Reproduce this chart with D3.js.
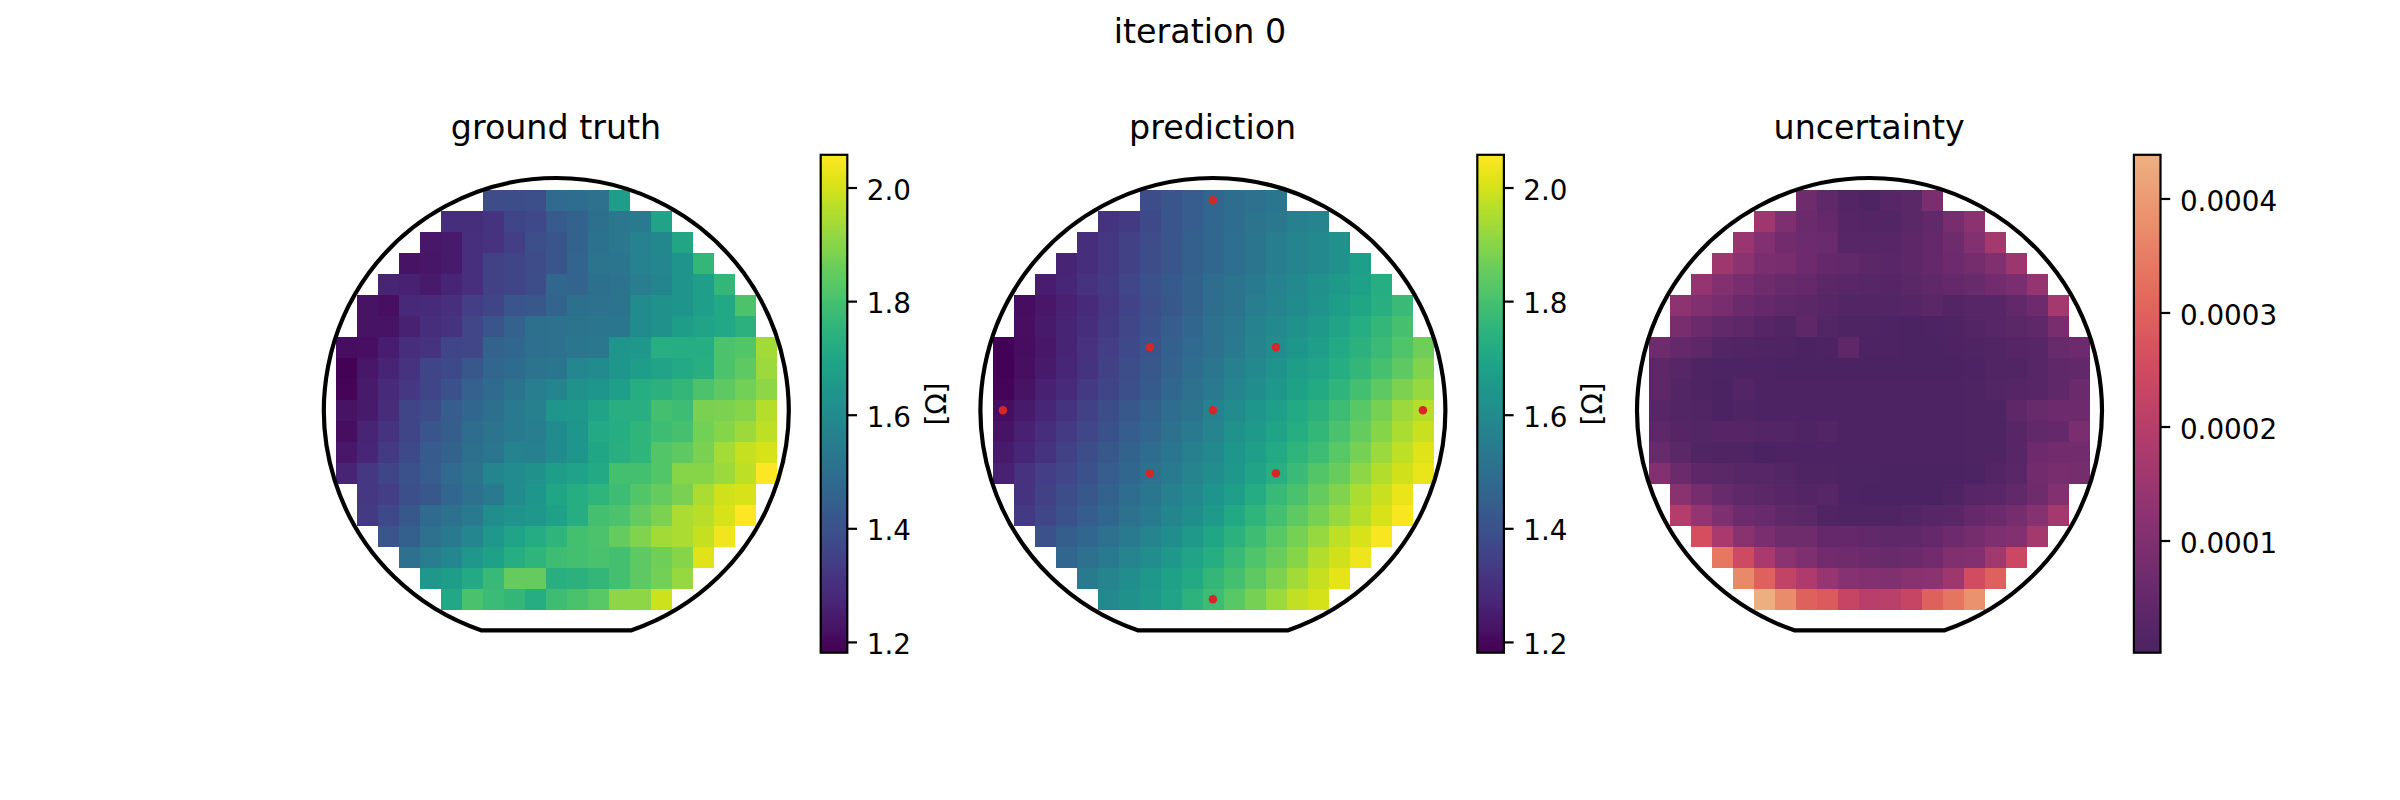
<!DOCTYPE html>
<html>
<head>
<meta charset="utf-8">
<script src="https://cdn.jsdelivr.net/npm/d3@7"></script>
<style>
body { margin: 0; background: #fff; }
text { font-family: "DejaVu Sans", sans-serif; fill: #000; }
</style>
</head>
<body>
<div class="chart"></div>
<script>
// first column of each wafer row, rows are read left to right from there
var rowStart = [7,5,4,3,2,1,1,0,0,0,0,0,0,0,1,1,2,3,4,5];

// sheet resistance
var truthRows = [
[1.38,1.385,1.39,1.48,1.49,1.505,1.665],
[1.295,1.295,1.31,1.36,1.37,1.43,1.455,1.50,1.53,1.54,1.69],
[1.235,1.24,1.30,1.305,1.34,1.39,1.41,1.455,1.51,1.53,1.57,1.59,1.695],
[1.225,1.23,1.24,1.30,1.35,1.36,1.38,1.41,1.46,1.515,1.52,1.57,1.585,1.635,1.76],
[1.27,1.26,1.24,1.27,1.30,1.35,1.36,1.385,1.47,1.46,1.50,1.515,1.55,1.58,1.635,1.67,1.76],
[1.225,1.215,1.28,1.285,1.30,1.34,1.36,1.41,1.42,1.46,1.50,1.505,1.515,1.60,1.62,1.635,1.67,1.705,1.81],
[1.225,1.225,1.26,1.295,1.31,1.365,1.41,1.45,1.50,1.505,1.515,1.52,1.525,1.60,1.62,1.665,1.69,1.705,1.74],
[1.21,1.215,1.25,1.295,1.31,1.36,1.365,1.455,1.47,1.495,1.505,1.52,1.53,1.64,1.645,1.73,1.725,1.725,1.81,1.82,1.935],
[1.185,1.235,1.27,1.305,1.36,1.375,1.42,1.47,1.485,1.515,1.525,1.585,1.60,1.64,1.665,1.69,1.71,1.73,1.81,1.84,1.925],
[1.19,1.24,1.285,1.32,1.36,1.40,1.45,1.48,1.515,1.55,1.58,1.62,1.64,1.67,1.725,1.74,1.76,1.81,1.84,1.87,1.91],
[1.225,1.24,1.29,1.36,1.385,1.435,1.47,1.50,1.54,1.56,1.64,1.645,1.69,1.73,1.73,1.795,1.785,1.88,1.885,1.90,1.96],
[1.21,1.27,1.31,1.36,1.41,1.44,1.49,1.515,1.54,1.55,1.60,1.64,1.71,1.725,1.75,1.785,1.80,1.87,1.90,1.93,1.97],
[1.235,1.275,1.33,1.375,1.43,1.455,1.50,1.52,1.57,1.56,1.60,1.64,1.70,1.73,1.75,1.82,1.84,1.88,1.94,1.98,2.005],
[1.27,1.32,1.36,1.40,1.435,1.48,1.515,1.58,1.60,1.62,1.665,1.685,1.71,1.795,1.795,1.82,1.90,1.90,1.925,1.97,2.055],
[1.32,1.34,1.39,1.42,1.47,1.505,1.54,1.60,1.64,1.70,1.725,1.75,1.785,1.82,1.85,1.88,1.945,1.995,2.005],
[1.33,1.375,1.42,1.48,1.505,1.54,1.61,1.63,1.645,1.68,1.725,1.795,1.81,1.85,1.885,1.945,1.965,2.005,2.055],
[1.41,1.445,1.505,1.54,1.585,1.645,1.69,1.72,1.75,1.795,1.81,1.85,1.89,1.935,1.945,1.98,2.04],
[1.505,1.55,1.585,1.645,1.68,1.725,1.75,1.785,1.795,1.805,1.795,1.84,1.865,1.90,2.015],
[1.645,1.665,1.71,1.77,1.85,1.85,1.73,1.74,1.76,1.795,1.84,1.87,1.92],
[1.705,1.805,1.78,1.76,1.725,1.785,1.805,1.83,1.91,1.91,1.99]
];

var predRows = [
[1.385,1.41,1.435,1.47,1.49,1.505,1.52],
[1.31,1.33,1.375,1.41,1.435,1.47,1.49,1.515,1.53,1.56,1.575],
[1.295,1.32,1.35,1.38,1.41,1.445,1.47,1.495,1.52,1.55,1.575,1.595,1.62],
[1.27,1.295,1.32,1.35,1.385,1.41,1.445,1.47,1.495,1.52,1.55,1.575,1.595,1.62,1.67],
[1.25,1.275,1.305,1.33,1.365,1.40,1.425,1.455,1.49,1.515,1.54,1.57,1.595,1.62,1.655,1.68,1.725],
[1.21,1.235,1.26,1.285,1.32,1.355,1.39,1.42,1.455,1.49,1.515,1.55,1.575,1.60,1.63,1.665,1.70,1.73,1.775],
[1.215,1.24,1.27,1.295,1.33,1.365,1.40,1.435,1.47,1.505,1.53,1.57,1.595,1.62,1.655,1.69,1.725,1.76,1.80],
[1.185,1.21,1.235,1.27,1.305,1.34,1.375,1.41,1.445,1.48,1.505,1.54,1.575,1.61,1.64,1.67,1.71,1.74,1.775,1.815,1.865],
[1.185,1.215,1.24,1.275,1.31,1.35,1.385,1.42,1.455,1.49,1.525,1.56,1.595,1.63,1.665,1.69,1.725,1.76,1.80,1.84,1.89],
[1.19,1.225,1.26,1.285,1.33,1.36,1.39,1.425,1.47,1.505,1.54,1.575,1.61,1.645,1.68,1.715,1.75,1.795,1.84,1.885,1.92],
[1.21,1.24,1.275,1.31,1.35,1.385,1.42,1.455,1.49,1.515,1.57,1.60,1.64,1.67,1.71,1.74,1.785,1.83,1.875,1.925,1.96],
[1.225,1.26,1.295,1.33,1.365,1.40,1.435,1.47,1.505,1.54,1.575,1.62,1.655,1.69,1.725,1.76,1.805,1.85,1.90,1.945,1.985],
[1.24,1.275,1.31,1.35,1.385,1.42,1.455,1.49,1.525,1.56,1.595,1.64,1.67,1.71,1.75,1.785,1.83,1.875,1.925,1.97,2.015],
[1.26,1.305,1.34,1.365,1.40,1.435,1.47,1.505,1.54,1.575,1.61,1.645,1.69,1.73,1.775,1.82,1.855,1.91,1.955,1.995,2.03],
[1.31,1.35,1.385,1.42,1.455,1.49,1.525,1.56,1.595,1.635,1.67,1.72,1.77,1.805,1.85,1.89,1.945,1.985,2.03],
[1.33,1.365,1.40,1.435,1.47,1.505,1.54,1.58,1.61,1.655,1.705,1.75,1.795,1.84,1.875,1.92,1.96,2.005,2.05],
[1.40,1.44,1.47,1.505,1.54,1.575,1.61,1.655,1.70,1.74,1.785,1.83,1.875,1.92,1.97,2.005,2.05],
[1.47,1.505,1.54,1.575,1.61,1.645,1.69,1.725,1.77,1.815,1.855,1.90,1.955,1.995,2.035],
[1.54,1.575,1.61,1.645,1.68,1.715,1.76,1.795,1.84,1.885,1.935,1.98,2.02],
[1.595,1.62,1.655,1.69,1.745,1.785,1.83,1.875,1.925,1.975,2.00]
];

// uncertainty in units of 1e-4
var uncertRows = [
[.70,.40,.18,.10,.22,.30,.90],
[1.55,.95,.60,.50,.20,.18,.15,.30,.45,.85,1.20],
[1.45,1.05,.75,.62,.60,.22,.22,.25,.35,.50,.70,1.05,1.65],
[1.55,1.20,.90,.85,.65,.50,.45,.32,.28,.35,.50,.65,.80,1.00,1.50],
[1.35,1.05,.85,.70,.55,.50,.32,.28,.25,.20,.30,.40,.50,.55,.75,.90,1.35],
[1.25,1.00,.85,.60,.50,.40,.32,.22,.15,.14,.14,.20,.30,.16,.22,.25,.45,.65,1.65],
[.85,.60,.45,.35,.20,.12,.35,.15,.10,.10,.05,.02,.05,.10,.18,.22,.30,.40,.85],
[.70,.50,.35,.15,.12,.08,.10,.02,.05,.35,.05,.05,.03,.03,.05,.08,.12,.20,.22,.55,.65],
[.35,.25,.08,.06,.06,.05,.04,.04,.04,.04,.04,.04,.04,.04,.04,.05,.12,.12,.25,.40,.45],
[.35,.15,.10,.02,.18,.05,.05,.05,.05,.05,.05,.05,.05,.05,.05,.08,.15,.20,.25,.40,.60],
[.25,.15,.12,.02,.08,.05,.05,.05,.05,.05,.05,.05,.05,.05,.05,.10,.08,.35,.55,.65,.65],
[.35,.20,.15,.20,.20,.18,.15,.10,.15,.05,.05,.05,.05,.05,.05,.10,.08,.25,.45,.50,.90],
[.55,.30,.12,.10,.10,.03,.05,.05,.05,.05,.05,.05,.05,.05,.05,.10,.10,.25,.65,.75,.75],
[1.05,.60,.35,.30,.22,.22,.15,.08,.08,.06,.06,.04,.02,.02,.04,.06,.18,.28,.75,.85,.80],
[1.15,.80,.55,.40,.30,.22,.18,.25,.05,.03,.04,.02,.04,.10,.25,.28,.45,.70,1.05],
[1.95,1.35,.95,.65,.55,.40,.30,.12,.10,.08,.10,.15,.22,.28,.50,.60,.80,1.10,1.65],
[2.60,1.75,1.15,.90,.70,.70,.50,.50,.45,.40,.40,.50,.65,.80,.95,1.05,1.65],
[3.40,2.45,1.75,1.20,.95,.75,.70,.60,.55,.60,.75,1.00,1.05,1.60,2.40],
[3.70,3.00,2.20,1.85,1.40,1.10,1.05,1.00,1.15,1.20,1.55,2.55,3.00],
[4.35,3.75,3.00,2.85,2.30,2.00,2.05,2.30,3.00,3.35,3.85]
];

// measurement sites on the prediction map, as column and row of the grid
var siteCols = [10,7,13,0,10,20,7,13,10];
var siteRows = [0,7,7,10,10,10,13,13,19];

var titles = ["ground truth", "prediction", "uncertainty"];
var resistTicks = [1.2,1.4,1.6,1.8,2.0];
var uncertTicks = [1,2,3,4];
var flareStops = ["#4b2362","#6c2b6d","#8f3371","#b13c6c","#d14a61","#e3685c","#e98d6b","#edb081"];

var width = 2400, height = 800;
var panelStep = 656.6;
var gridLeft = 336, gridTop = 190;
var cellW = 21, cellH = 21;
var nCols = 21, nRows = 20;
var barLeft = 820.7, barWidth = 26.6, barTop = 154.8, barBottom = 652.7;
var lw = 4.17, thin = 2.2;

var svg = d3.select(".chart").append("svg")
    .attr("width", width)
    .attr("height", height)
    .style("display", "block");
var defs = svg.append("defs");

svg.append("text")
    .attr("x", 1200)
    .attr("y", 43)
    .attr("text-anchor", "middle")
    .style("font-size", "33.3px")
    .text("iteration 0");

var resistColor = function(v) { return d3.interpolateViridis((v - 1.181) / (2.0576 - 1.181)); };
var flareScale = d3.scaleLinear()
    .domain(d3.range(flareStops.length).map(function(i) { return i / (flareStops.length - 1); }))
    .range(flareStops)
    .interpolate(d3.interpolateRgb);
var uncertColor = function(v) { return flareScale((v - 0.016) / (4.383 - 0.016)); };

drawPanel(0, truthRows, resistColor, [1.181, 2.0576], resistTicks, d3.format(".1f"), "[Ω]");
drawPanel(1, predRows, resistColor, [1.181, 2.0576], resistTicks, d3.format(".1f"), "[Ω]");
drawPanel(2, uncertRows, uncertColor, [0.016, 4.383], uncertTicks, function(d) { return (d * 1e-4).toFixed(4); }, null);

function drawPanel(idx, rows, color, domain, ticks, fmt, unit) {
    var g = svg.append("g").attr("transform", "translate(" + (idx * panelStep) + ",0)");

    var x = d3.scaleBand().domain(d3.range(nCols)).range([gridLeft, gridLeft + nCols * cellW]);
    var y = d3.scaleBand().domain(d3.range(nRows)).range([gridTop, gridTop + nRows * cellH]);

    g.append("text")
        .attr("x", 556)
        .attr("y", 139)
        .attr("text-anchor", "middle")
        .style("font-size", "33.3px")
        .text(titles[idx]);

    var row = g.selectAll(".row")
        .data(rows)
        .enter().append("g")
        .attr("class", "row")
        .attr("transform", function(d, i) { return "translate(0," + y(i) + ")"; });

    row.each(function(d, i) {
        d3.select(this).selectAll("rect")
            .data(d)
            .enter().append("rect")
            .attr("x", function(v, j) { return x(rowStart[i] + j); })
            .attr("width", x.bandwidth())
            .attr("height", y.bandwidth())
            .attr("shape-rendering", "crispEdges")
            .style("fill", color);
    });

    if (idx == 1) {
        g.selectAll(".site")
            .data(siteCols)
            .enter().append("circle")
            .attr("class", "site")
            .attr("cx", function(d) { return x(d) + x.bandwidth() / 2 - 0.2; })
            .attr("cy", function(d, i) { return y(siteRows[i]) + y.bandwidth() / 2 - 0.2; })
            .attr("r", 4.3)
            .style("fill", "#d62728");
    }

    // wafer outline with the flat at the bottom
    var cx = 556.3, cy = 410.4, r = 232.4, flatY = 630.3;
    var ang = Math.acos((flatY - cy) / r);
    var path = d3.path();
    path.arc(cx, cy, r, Math.PI / 2 + ang, Math.PI / 2 - ang + 2 * Math.PI);
    path.closePath();
    g.append("path")
        .attr("d", path.toString())
        .style("fill", "none")
        .style("stroke", "#000")
        .style("stroke-width", lw);

    // colorbar
    var barScale = d3.scaleLinear().domain(domain).range([barBottom, barTop]);
    var gradId = "grad" + idx;
    var grad = defs.append("linearGradient")
        .attr("id", gradId)
        .attr("x1", "0%").attr("y1", "100%")
        .attr("x2", "0%").attr("y2", "0%");
    d3.range(0, 65).forEach(function(i) {
        grad.append("stop")
            .attr("offset", (i / 64 * 100) + "%")
            .attr("stop-color", color(domain[0] + (domain[1] - domain[0]) * i / 64));
    });
    g.append("rect")
        .attr("x", barLeft)
        .attr("y", barTop)
        .attr("width", barWidth)
        .attr("height", barBottom - barTop)
        .style("fill", "url(#" + gradId + ")")
        .style("stroke", "#000")
        .style("stroke-width", thin);

    var axis = g.append("g")
        .attr("transform", "translate(" + (barLeft + barWidth) + ",0)")
        .call(d3.axisRight(barScale).tickValues(ticks).tickFormat(fmt).tickSize(9.7).tickPadding(9.7));
    axis.select(".domain").remove();
    axis.selectAll("line").style("stroke", "#000").style("stroke-width", thin);
    axis.selectAll("text")
        .attr("dy", "0.42em")
        .style("font-size", "27.8px")
        .style("font-family", '"DejaVu Sans", sans-serif');

    if (unit) {
        g.append("text")
            .attr("transform", "translate(936,404) rotate(-90)")
            .attr("text-anchor", "middle")
            .attr("dy", "0.35em")
            .style("font-size", "27.8px")
            .text(unit);
    }
}
</script>
</body>
</html>
